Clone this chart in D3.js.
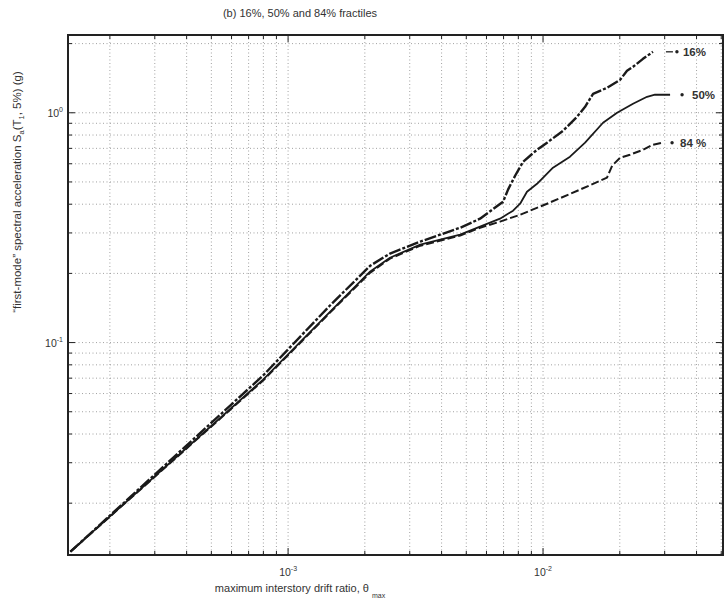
<!DOCTYPE html>
<html><head><meta charset="utf-8">
<script src="https://cdn.jsdelivr.net/npm/d3@7"></script>
<style>
body{margin:0;background:#fff}
svg{display:block}
text{font-family:"Liberation Sans",Arial,Helvetica,sans-serif;fill:#333}
</style>
</head><body>
<svg id="c" width="725" height="613"></svg>
<script>
// ---- data ----
const theta16 = [1.40e-4, 7.98e-4, 1.46e-3, 2.10e-3, 2.51e-3, 3.30e-3, 4.73e-3, 5.66e-3, 6.97e-3, 7.29e-3, 7.77e-3, 8.35e-3, 9.47e-3, 1.037e-2, 1.198e-2, 1.359e-2, 1.462e-2, 1.571e-2, 1.782e-2, 2.005e-2, 2.135e-2, 2.254e-2, 2.466e-2, 2.698e-2];
const sa16    = [0.0123, 0.0719, 0.145, 0.216, 0.244, 0.275, 0.316, 0.346, 0.410, 0.463, 0.532, 0.612, 0.690, 0.741, 0.835, 0.961, 1.062, 1.209, 1.285, 1.391, 1.523, 1.585, 1.717, 1.842];

const theta50 = [1.40e-4, 7.98e-4, 1.46e-3, 2.10e-3, 2.51e-3, 3.30e-3, 4.73e-3, 6.78e-3, 7.63e-3, 8.13e-3, 8.65e-3, 9.47e-3, 1.094e-2, 1.276e-2, 1.462e-2, 1.719e-2, 1.952e-2, 2.254e-2, 2.558e-2, 2.748e-2, 3.15e-2];
const sa50    = [0.0123, 0.0690, 0.136, 0.204, 0.234, 0.267, 0.295, 0.346, 0.375, 0.402, 0.4535, 0.491, 0.577, 0.644, 0.741, 0.905, 1.000, 1.094, 1.174, 1.198, 1.198];

const theta84 = [1.40e-4, 7.98e-4, 1.46e-3, 2.10e-3, 2.51e-3, 3.30e-3, 4.73e-3, 5.66e-3, 6.78e-3, 8.13e-3, 1.037e-2, 1.396e-2, 1.782e-2, 1.866e-2, 2.005e-2, 2.193e-2, 2.466e-2, 2.698e-2, 2.93e-2];
const sa84    = [0.0123, 0.0684, 0.135, 0.2016, 0.232, 0.264, 0.292, 0.316, 0.336, 0.360, 0.402, 0.463, 0.522, 0.588, 0.637, 0.657, 0.690, 0.726, 0.741];

const seriesNames = ["16%", "50%", "84 %"];
const xMajorTicks = [1e-3, 1e-2];
const xTickExp = ["-3", "-2"];
const yMajorTicks = [1e-1, 1];
const yTickExp = ["-1", "0"];
const xDomain = [1.37e-4, 0.0508];
const yDomain = [0.0119, 2.18];

// ---- drawing ----
const svg = d3.select("#c");
const L = 68, R = 723, T = 35, B = 555;
const x = d3.scaleLog().domain(xDomain).range([L, R]);
const y = d3.scaleLog().domain(yDomain).range([B, T]);

const grid = svg.append("g").attr("stroke", "#8a8a8a").attr("stroke-width", 0.8)
  .attr("stroke-dasharray", "1,2.5").attr("fill", "none");
const xt = x.ticks().filter(v => v > xDomain[0] && v < xDomain[1]);
const yt = y.ticks().filter(v => v > yDomain[0] && v < yDomain[1]);
grid.selectAll("line.vx").data(xt).join("line")
  .attr("x1", d => x(d)).attr("x2", d => x(d)).attr("y1", T).attr("y2", B);
grid.selectAll("line.hy").data(yt).join("line")
  .attr("y1", d => y(d)).attr("y2", d => y(d)).attr("x1", L).attr("x2", R);

// ticks (inside, all four sides)
const isMajor = v => Math.abs(Math.log10(v) - Math.round(Math.log10(v))) < 1e-6;
const tk = svg.append("g").attr("stroke", "#222").attr("stroke-width", 1);
xt.forEach(v => {
  const len = isMajor(v) ? 7 : 4;
  tk.append("line").attr("x1", x(v)).attr("x2", x(v)).attr("y1", B).attr("y2", B - len);
  tk.append("line").attr("x1", x(v)).attr("x2", x(v)).attr("y1", T).attr("y2", T + len);
});
yt.forEach(v => {
  const len = isMajor(v) ? 7 : 4;
  tk.append("line").attr("y1", y(v)).attr("y2", y(v)).attr("x1", L).attr("x2", L + len);
  tk.append("line").attr("y1", y(v)).attr("y2", y(v)).attr("x1", R).attr("x2", R - len);
});

// curves
const line = d3.line().x(d => x(d[0])).y(d => y(d[1]));
const series = [
  {name: seriesNames[0], pts: d3.zip(theta16, sa16), dash: "12,2,3,2", w: 2.4},
  {name: seriesNames[1], pts: d3.zip(theta50, sa50), dash: null, w: 1.8},
  {name: seriesNames[2], pts: d3.zip(theta84, sa84), dash: "8,3", w: 2.0}
];
series.forEach(s => {
  svg.append("path").datum(s.pts).attr("d", line).attr("fill", "none")
    .attr("stroke", "#1a1a1a").attr("stroke-width", s.w)
    .attr("stroke-linejoin", "round")
    .attr("stroke-dasharray", s.dash);
});

// end labels
const lab = svg.append("g");
const dotOff = [24, 12, 10], txtOff = [30, 22, 18];
series.forEach((s, i) => {
  const last = s.pts[s.pts.length - 1];
  const px = x(last[0]), py = y(last[1]);
  if (i === 0) lab.append("line").attr("x1", px + 13).attr("x2", px + 20).attr("y1", py).attr("y2", py)
      .attr("stroke", "#222").attr("stroke-width", 1.3);
  lab.append("circle").attr("cx", px + dotOff[i]).attr("cy", py).attr("r", 1.7).attr("fill", "#222");
  lab.append("text").attr("x", px + txtOff[i]).attr("y", py + 4).attr("font-size", 11.5)
    .attr("font-weight", "bold").text(s.name);
});

// frame
svg.append("rect").attr("x", L).attr("y", T).attr("width", R - L).attr("height", B - T)
  .attr("fill", "none").attr("stroke", "#222").attr("stroke-width", 2);

// tick labels
xMajorTicks.forEach((v, i) => {
  const t = svg.append("text").attr("x", x(v)).attr("y", 576).attr("text-anchor", "middle").attr("font-size", 10.5);
  t.append("tspan").text("10");
  t.append("tspan").attr("dy", -5).attr("font-size", 7).text(xTickExp[i]);
});
yMajorTicks.forEach((v, i) => {
  const t = svg.append("text").attr("x", L - 5).attr("y", y(v) + 4).attr("text-anchor", "end").attr("font-size", 10.5);
  t.append("tspan").text("10");
  t.append("tspan").attr("dy", -5).attr("font-size", 7).text(yTickExp[i]);
});

// title
svg.append("text").attr("x", 300).attr("y", 17).attr("text-anchor", "middle").attr("font-size", 11)
  .text("(b) 16%, 50% and 84% fractiles");

// x label
const xl = svg.append("text").attr("x", 300).attr("y", 592).attr("text-anchor", "middle").attr("font-size", 11);
xl.append("tspan").text("maximum interstory drift ratio, \u03b8");
xl.append("tspan").attr("dy", 6).attr("dx", 3).attr("font-size", 7).text("max");

// y label
const yl = svg.append("text").attr("transform", "translate(21,192) rotate(-90)")
  .attr("text-anchor", "middle").attr("font-size", 11.5);
yl.append("tspan").text("\u201cfirst-mode\u201d spectral acceleration S");
yl.append("tspan").attr("dy", 3).attr("font-size", 7.5).text("a");
yl.append("tspan").attr("dy", -3).text("(T");
yl.append("tspan").attr("dy", 3).attr("font-size", 7.5).text("1");
yl.append("tspan").attr("dy", -3).text(", 5%)  (g)");
</script>
</body></html>
